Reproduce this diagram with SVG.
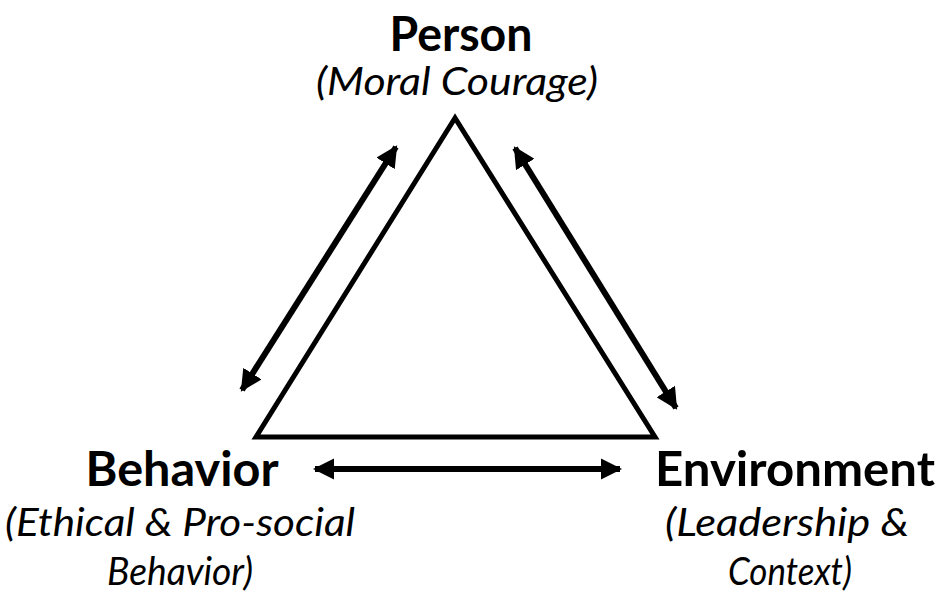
<svg xmlns="http://www.w3.org/2000/svg" width="943" height="595" viewBox="0 0 943 595">
<style>
.t{font-family:Lato,"Open Sans",sans-serif;fill:#000}
.b{font-weight:bold;font-size:47px}
.i{font-style:italic;font-size:38px}
.c{stroke:#000;stroke-width:6;fill:none}
</style>
<defs>
<marker id="ah" viewBox="0 0 10 10" refX="9" refY="5" markerWidth="3.6" markerHeight="3.6" orient="auto-start-reverse" markerUnits="strokeWidth">
<path d="M0,0 L10,5 L0,10 Z" fill="#000"/>
</marker>
</defs>
<rect width="943" height="595" fill="#fff"/>
<g id="triangle"><path d="M455,118 L256,437 L655,437 Z" fill="none" stroke="#000" stroke-width="5" stroke-linejoin="miter"/></g>
<g id="person"><text class="t b" x="461" y="51" text-anchor="middle" textLength="143" lengthAdjust="spacingAndGlyphs">Person</text><text class="t i" x="457" y="95" text-anchor="middle" textLength="282" lengthAdjust="spacingAndGlyphs">(Moral Courage)</text></g>
<g id="behavior"><text class="t b" x="182" y="486" text-anchor="middle" textLength="193" lengthAdjust="spacingAndGlyphs">Behavior</text><text class="t i" x="180" y="536" text-anchor="middle" textLength="350" lengthAdjust="spacingAndGlyphs">(Ethical &amp; Pro-social</text><text class="t i" x="180" y="585" text-anchor="middle" textLength="146" lengthAdjust="spacingAndGlyphs">Behavior)</text></g>
<g id="environment"><text class="t b" x="795" y="486" text-anchor="middle" textLength="280" lengthAdjust="spacingAndGlyphs">Environment</text><text class="t i" x="787" y="536" text-anchor="middle" textLength="244" lengthAdjust="spacingAndGlyphs">(Leadership &amp;</text><text class="t i" x="790" y="585" text-anchor="middle" textLength="124" lengthAdjust="spacingAndGlyphs">Context)</text></g>
<g id="connectors">
<line class="c" x1="242" y1="390" x2="396" y2="147" marker-start="url(#ah)" marker-end="url(#ah)"/>
<line class="c" x1="515" y1="148" x2="676" y2="408" marker-start="url(#ah)" marker-end="url(#ah)"/>
<line class="c" x1="315" y1="469" x2="620" y2="469" marker-start="url(#ah)" marker-end="url(#ah)"/>
</g>
</svg>
